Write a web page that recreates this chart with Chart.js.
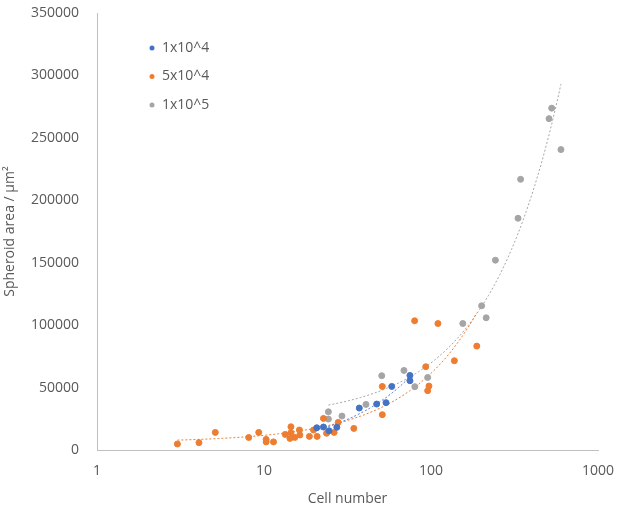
<!DOCTYPE html>
<html>
<head>
<meta charset="utf-8">
<script src="https://cdn.jsdelivr.net/npm/chart.js@4.4.1/dist/chart.umd.min.js"></script>
<style>
  html, body { margin: 0; padding: 0; background: #fff; }
  #wrap { width: 624px; height: 507px; }
</style>
</head>
<body>
<div id="wrap"><canvas id="grafico" width="624" height="507"></canvas></div>
<script>
const seriesNames = ["1x10^4", "5x10^4", "1x10^5"];
const seriesColors = ["#4472C4", "#ED7D31", "#A5A5A5"];

// 1x10^4
const cellsA = [20.7, 22.7, 24.5, 27.3, 37.2, 47.3, 53.8, 58.2, 74.8, 74.8];
const areaA = [17800, 18400, 15400, 18200, 33600, 36800, 37900, 50900, 59700, 55500];

// 5x10^4
const cellsB = [3.03, 4.08, 5.11, 8.1, 9.3, 10.3, 10.3, 11.4, 13.4, 14.5, 14.5, 14.3, 15.3, 16.3, 16.4,
  18.7, 19.8, 20.8, 22.7, 23.7, 26.3, 27.8, 34.5, 51.1, 51.1, 79.8, 93, 95.5, 97.2, 110, 138, 188];
const areaB = [4800, 5900, 14100, 10000, 14100, 8500, 6500, 6500, 12500, 18600, 13900, 9300, 10100, 16000, 12000,
  10900, 16000, 10900, 25300, 13400, 14100, 22100, 17300, 28300, 50900, 103500, 66700, 47500, 51200, 101300, 71500, 83200];

// 1x10^5
const cellsC = [24.3, 24.3, 29.3, 40.8, 50.7, 68.9, 80, 95.5, 155, 201, 214, 243, 332, 344, 509, 528, 600];
const areaC = [30600, 24800, 27200, 36500, 59500, 63700, 50700, 58100, 101300, 115500, 105900, 152000,
  185600, 216800, 265400, 273800, 240600];

const xTicks = [1, 10, 100, 1000];
const yMax = 350000;
const yStep = 50000;

function pares(xs, ys) {
  return xs.map((x, i) => ({ x: x, y: ys[i] }));
}

// linha de tendencia linear (como no Excel), desenhada sobre eixo log
function tendencia(xs, ys) {
  const n = xs.length;
  const mx = xs.reduce((a, b) => a + b, 0) / n;
  const my = ys.reduce((a, b) => a + b, 0) / n;
  let sxy = 0, sxx = 0;
  xs.forEach((x, i) => {
    sxy += (x - mx) * (ys[i] - my);
    sxx += (x - mx) * (x - mx);
  });
  const b = sxy / sxx;
  const a = my - b * mx;
  const lo = Math.min(...xs), hi = Math.max(...xs);
  const pts = [];
  for (let k = 0; k <= 80; k++) {
    const x = lo * Math.pow(hi / lo, k / 80);
    pts.push({ x: x, y: a + b * x });
  }
  return pts;
}

const todos = [[cellsA, areaA], [cellsB, areaB], [cellsC, areaC]];

const datasets = [];
todos.forEach((s, i) => {
  datasets.push({
    type: "line",
    label: "trend" + i,
    data: tendencia(s[0], s[1]),
    borderColor: seriesColors[i],
    borderWidth: 1,
    borderDash: [2, 2],
    pointRadius: 0,
    fill: false,
    tension: 0,
    order: 2
  });
});
todos.forEach((s, i) => {
  datasets.push({
    type: "scatter",
    label: seriesNames[i],
    data: pares(s[0], s[1]),
    backgroundColor: seriesColors[i],
    borderColor: seriesColors[i],
    pointRadius: 3,
    pointHoverRadius: 3,
    order: 1
  });
});

// legenda dentro da area do grafico
const legendaPlugin = {
  id: "legendaDentro",
  afterDraw(chart) {
    const ctx = chart.ctx;
    ctx.save();
    ctx.font = "14px 'Open Sans', sans-serif";
    ctx.textBaseline = "middle";
    seriesNames.forEach((nome, i) => {
      const y = 48 + i * 28.5;
      ctx.fillStyle = seriesColors[i];
      ctx.beginPath();
      ctx.arc(152, y, 2.5, 0, Math.PI * 2);
      ctx.fill();
      ctx.fillStyle = "#595959";
      ctx.fillText(nome, 162, y);
    });
    ctx.restore();
  }
};

Chart.defaults.font.family = "'Open Sans', sans-serif";
Chart.defaults.color = "#595959";

new Chart(document.getElementById("grafico").getContext("2d"), {
  type: "scatter",
  data: { datasets: datasets },
  plugins: [legendaPlugin],
  options: {
    responsive: false,
    animation: false,
    layout: { padding: { top: 13, right: 26, left: 2, bottom: 0 } },
    plugins: {
      legend: { display: false },
      tooltip: { enabled: false }
    },
    scales: {
      x: {
        type: "logarithmic",
        min: 1,
        max: 1000,
        afterBuildTicks: sc => { sc.ticks = xTicks.map(v => ({ value: v })); },
        afterFit: sc => { sc.height = 57; sc.paddingLeft = 0; sc.paddingRight = 0; },
        ticks: {
          font: { size: 14 },
          padding: 13,
          maxRotation: 0,
          callback: v => String(v)
        },
        grid: { display: false, drawTicks: false },
        border: { display: true, color: "#BFBFBF", width: 1 },
        title: {
          display: true,
          text: "Cell number",
          font: { size: 14 },
          padding: { top: 2, bottom: 0 }
        }
      },
      y: {
        min: 0,
        max: yMax,
        afterFit: sc => { sc.width = 95; sc.paddingTop = 0; sc.paddingBottom = 0; },
        ticks: {
          stepSize: yStep,
          font: { size: 14 },
          padding: 18,
          callback: v => String(v)
        },
        grid: { display: false, drawTicks: false },
        border: { display: true, color: "#BFBFBF", width: 1 },
        title: {
          display: true,
          text: "Spheroid area / µm²",
          font: { size: 14 },
          padding: { top: 0, bottom: 0 }
        }
      }
    }
  }
});
</script>
</body>
</html>
